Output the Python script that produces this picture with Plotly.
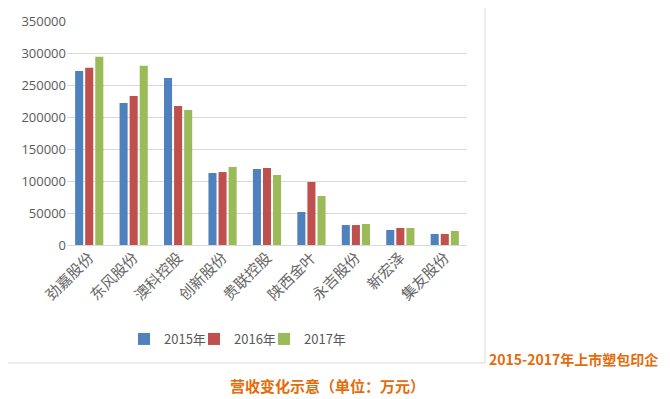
import plotly.graph_objects as go

categories = ["劲嘉股份", "东风股份", "澳科控股", "创新股份", "贵联控股", "陕西金叶", "永吉股份", "新宏泽", "集友股份"]
series_names = ["2015年", "2016年", "2017年"]
v2015 = [272000, 222000, 261000, 112500, 118700, 51600, 31200, 23400, 17200]
v2016 = [277000, 233000, 217000, 114000, 120300, 98400, 31200, 26600, 17200]
v2017 = [294000, 280000, 211000, 122000, 109400, 76600, 32800, 26600, 21900]
y_ticks = [0, 50000, 100000, 150000, 200000, 250000, 300000, 350000]
colors = ["#4F81BD", "#C0504D", "#9BBB59"]

W, H = 670, 399
OFF = 8  # page body margin
L, R, T, B = 67 - OFF, 467 - OFF, 21 - OFF, 245 - OFF

def px_x(p):
    return (p - OFF - L) / (R - L)

def px_y(p):
    return (B - (p - OFF)) / (B - T)

legend_ids = ["legend", "legend2", "legend3"]
legend_px = [124, 194, 264]

fig = go.Figure()
for name, vals, c, lg in zip(series_names, [v2015, v2016, v2017], colors, legend_ids):
    fig.add_trace(go.Bar(x=categories, y=vals, name=name, legend=lg, showlegend=True,
                         marker=dict(color=c, line=dict(width=0))))

grey = "#D9D9D9"
shapes = [
    dict(type="line", xref="paper", yref="paper", x0=px_x(0), x1=px_x(485), y0=px_y(3), y1=px_y(3), line=dict(color=grey, width=1)),
    dict(type="line", xref="paper", yref="paper", x0=px_x(485), x1=px_x(485), y0=px_y(3), y1=px_y(363), line=dict(color=grey, width=1)),
    dict(type="line", xref="paper", yref="paper", x0=px_x(0), x1=px_x(485), y0=px_y(363), y1=px_y(363), line=dict(color=grey, width=1)),
    dict(type="line", xref="paper", yref="paper", x0=px_x(667.5), x1=px_x(667.5), y0=px_y(0), y1=px_y(142), line=dict(color=grey, width=1)),
]

legend_common = dict(orientation="v", xanchor="left", y=px_y(339), yanchor="middle",
                     font=dict(size=13, family="Noto Sans CJK SC", color="#595959"), itemwidth=30,
                     bgcolor="rgba(0,0,0,0)", borderwidth=0)

fig.update_layout(
    width=W, height=H, showlegend=True,
    margin=dict(l=L, r=W - (R), t=T, b=H - B, autoexpand=False),
    paper_bgcolor="white", plot_bgcolor="white",
    barmode="group", bargap=0.32, bargroupgap=0.2,
    font=dict(family="Open Sans, Noto Sans CJK SC", color="#595959"),
    xaxis=dict(tickangle=-45, tickfont=dict(size=15, family="Noto Sans CJK SC", color="#666666"),
               showgrid=False, showline=False, ticks="", automargin=False),
    yaxis=dict(range=[0, 350000], tickvals=y_ticks, ticktext=[str(v) for v in y_ticks],
               tickfont=dict(size=13, color="#595959"), gridcolor=grey, gridwidth=1,
               zeroline=True, zerolinecolor=grey, zerolinewidth=1, showline=False, automargin=False),
    legend=dict(x=px_x(legend_px[0]), **legend_common),
    legend2=dict(x=px_x(legend_px[1]), **legend_common),
    legend3=dict(x=px_x(legend_px[2]), **legend_common),
    shapes=shapes,
    annotations=[
        dict(text="<b>2015-2017年上市塑包印企</b>", xref="paper", yref="paper", x=px_x(487), y=px_y(359),
             xanchor="left", yanchor="middle", showarrow=False,
             font=dict(size=14, color="#E46C0A", family="Noto Sans CJK SC")),
        dict(text="<b>营收变化示意（单位：万元）</b>", xref="paper", yref="paper", x=px_x(327), y=px_y(385),
             xanchor="center", yanchor="middle", showarrow=False,
             font=dict(size=15, color="#E46C0A", family="Noto Sans CJK SC")),
    ],
)

fig.write_html("out.html")
